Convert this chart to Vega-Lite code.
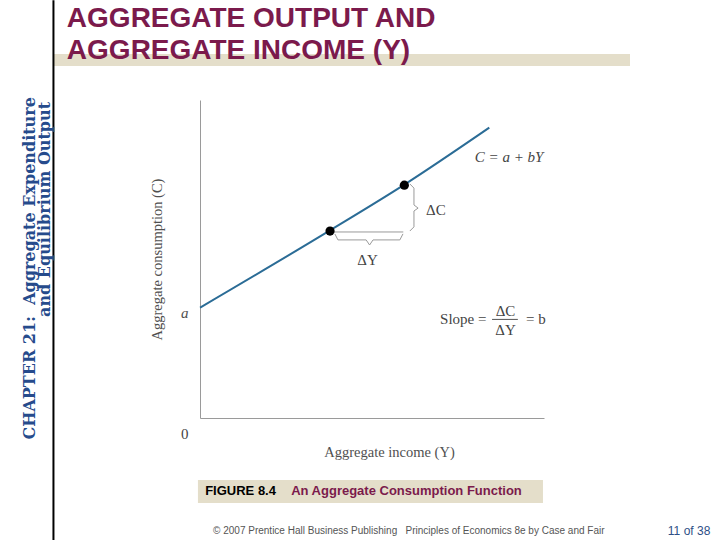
{
  "$schema": "https://vega.github.io/schema/vega-lite/v6.json",
  "width": 344,
  "height": 318,
  "autosize": {"type": "none"},
  "padding": {"left": 200, "top": 100, "right": 176, "bottom": 122},
  "background": "white",
  "config": {"view": {"stroke": null}, "axis": {"grid": false}},
  "datasets": {
    "consumption": [
      {"Y": 0, "C": 34.7},
      {"Y": 37.8, "C": 59.0},
      {"Y": 59.3, "C": 73.3},
      {"Y": 84.1, "C": 91.3}
    ],
    "points": [
      {"Y": 37.8, "C": 58.8},
      {"Y": 59.4, "C": 73.2}
    ],
    "braces": [
      {"brace": "dY", "k": 1, "Y": 39.2, "C": 57.9},
      {"brace": "dY", "k": 2, "Y": 40.1, "C": 56.0},
      {"brace": "dY", "k": 3, "Y": 48.3, "C": 56.0},
      {"brace": "dY", "k": 4, "Y": 49.3, "C": 54.4},
      {"brace": "dY", "k": 5, "Y": 50.3, "C": 56.0},
      {"brace": "dY", "k": 6, "Y": 58.1, "C": 56.0},
      {"brace": "dY", "k": 7, "Y": 59.0, "C": 57.9},
      {"brace": "dC", "k": 1, "Y": 61.0, "C": 73.6},
      {"brace": "dC", "k": 2, "Y": 62.2, "C": 72.3},
      {"brace": "dC", "k": 3, "Y": 62.2, "C": 67.0},
      {"brace": "dC", "k": 4, "Y": 63.4, "C": 66.0},
      {"brace": "dC", "k": 5, "Y": 62.2, "C": 65.1},
      {"brace": "dC", "k": 6, "Y": 62.2, "C": 60.1},
      {"brace": "dC", "k": 7, "Y": 61.0, "C": 58.8}
    ]
  },
  "layer": [
    {
      "data": {"values": [{}]},
      "mark": {"type": "rect", "color": "#E4DECA"},
      "encoding": {
        "x": {"datum": -42.6, "type": "quantitative", "scale": {"domain": [0, 100], "nice": false, "zero": false}},
        "x2": {"datum": 125},
        "y": {"datum": 114.5, "type": "quantitative", "scale": {"domain": [0, 100], "nice": false, "zero": false}},
        "y2": {"datum": 110.7}
      }
    },
    {
      "data": {"values": [{}]},
      "mark": {"type": "rule", "color": "#000000", "strokeWidth": 2},
      "encoding": {
        "x": {"datum": -42.6, "type": "quantitative", "scale": {"domain": [0, 100], "nice": false, "zero": false}},
        "y": {"datum": 131.4, "type": "quantitative", "scale": {"domain": [0, 100], "nice": false, "zero": false}},
        "y2": {"datum": -38.4}
      }
    },
    {
      "data": {"values": [{}]},
      "mark": {"type": "text", "font": "Liberation Sans", "fontWeight": "bold", "fontSize": 28, "color": "#7B1A4C", "align": "left", "baseline": "alphabetic", "lineBreak": "\n", "lineHeight": 32},
      "encoding": {
        "x": {"datum": -38.7, "type": "quantitative", "scale": {"domain": [0, 100], "nice": false, "zero": false}},
        "y": {"datum": 123.0, "type": "quantitative", "scale": {"domain": [0, 100], "nice": false, "zero": false}},
        "text": {"value": "AGGREGATE OUTPUT AND\nAGGREGATE INCOME (Y)"}
      }
    },
    {
      "data": {"values": [{}]},
      "mark": {"type": "text", "font": "DejaVu Serif", "fontWeight": "bold", "fontSize": 16, "color": "#264B8C", "align": "right", "baseline": "alphabetic", "angle": 270},
      "encoding": {
        "x": {"datum": -48.0, "type": "quantitative", "scale": {"domain": [0, 100], "nice": false, "zero": false}},
        "y": {"datum": 100.9, "type": "quantitative", "scale": {"domain": [0, 100], "nice": false, "zero": false}},
        "text": {"value": "CHAPTER 21:\u00a0 Aggregate Expenditure"}
      }
    },
    {
      "data": {"values": [{}]},
      "mark": {"type": "text", "font": "DejaVu Serif", "fontWeight": "bold", "fontSize": 16, "color": "#264B8C", "align": "right", "baseline": "alphabetic", "angle": 270},
      "encoding": {
        "x": {"datum": -43.5, "type": "quantitative", "scale": {"domain": [0, 100], "nice": false, "zero": false}},
        "y": {"datum": 99.4, "type": "quantitative", "scale": {"domain": [0, 100], "nice": false, "zero": false}},
        "text": {"value": "and Equilibrium Output"}
      }
    },
    {
      "data": {"values": [{}]},
      "mark": {"type": "rect", "color": "#E4DECA"},
      "encoding": {
        "x": {"datum": -0.6, "type": "quantitative", "scale": {"domain": [0, 100], "nice": false, "zero": false}},
        "x2": {"datum": 99.7},
        "y": {"datum": -19.5, "type": "quantitative", "scale": {"domain": [0, 100], "nice": false, "zero": false}},
        "y2": {"datum": -26.7}
      }
    },
    {
      "data": {"values": [{}]},
      "mark": {"type": "text", "font": "Liberation Sans", "fontWeight": "bold", "fontSize": 13, "color": "#000000", "align": "left", "baseline": "middle"},
      "encoding": {
        "x": {"datum": 1.5, "type": "quantitative", "scale": {"domain": [0, 100], "nice": false, "zero": false}},
        "y": {"datum": -23.1, "type": "quantitative", "scale": {"domain": [0, 100], "nice": false, "zero": false}},
        "text": {"value": "FIGURE 8.4"}
      }
    },
    {
      "data": {"values": [{}]},
      "mark": {"type": "text", "font": "Liberation Sans", "fontWeight": "bold", "fontSize": 13, "color": "#7B1A4C", "align": "left", "baseline": "middle"},
      "encoding": {
        "x": {"datum": 26.5, "type": "quantitative", "scale": {"domain": [0, 100], "nice": false, "zero": false}},
        "y": {"datum": -23.1, "type": "quantitative", "scale": {"domain": [0, 100], "nice": false, "zero": false}},
        "text": {"value": "An Aggregate Consumption Function"}
      }
    },
    {
      "data": {"values": [{}]},
      "mark": {"type": "text", "font": "Liberation Sans", "fontSize": 10, "color": "#555555", "align": "left", "baseline": "middle"},
      "encoding": {
        "x": {"datum": 3.8, "type": "quantitative", "scale": {"domain": [0, 100], "nice": false, "zero": false}},
        "y": {"datum": -35.5, "type": "quantitative", "scale": {"domain": [0, 100], "nice": false, "zero": false}},
        "text": {"value": "© 2007 Prentice Hall Business Publishing\u00a0\u00a0 Principles of Economics 8e by Case and Fair"}
      }
    },
    {
      "data": {"values": [{}]},
      "mark": {"type": "text", "font": "Liberation Sans", "fontSize": 12, "color": "#2E4F86", "align": "left", "baseline": "middle"},
      "encoding": {
        "x": {"datum": 136.0, "type": "quantitative", "scale": {"domain": [0, 100], "nice": false, "zero": false}},
        "y": {"datum": -35.5, "type": "quantitative", "scale": {"domain": [0, 100], "nice": false, "zero": false}},
        "text": {"value": "11 of 38"}
      }
    },
    {
      "data": {"name": "consumption"},
      "mark": {"type": "line", "color": "#2B6C96", "strokeWidth": 2, "interpolate": "monotone"},
      "encoding": {
        "x": {
          "field": "Y", "type": "quantitative",
          "scale": {"domain": [0, 100], "nice": false, "zero": false},
          "axis": {"title": "Aggregate income (Y)", "labels": false, "ticks": false, "domainColor": "#9a9a9a", "domainWidth": 1, "titleFont": "Liberation Serif", "titleFontWeight": "normal", "titleFontSize": 14.5, "titleColor": "#505050", "titlePadding": 27, "titleX": 189}
        },
        "y": {
          "field": "C", "type": "quantitative",
          "scale": {"domain": [0, 100], "nice": false, "zero": false},
          "axis": {"title": "Aggregate consumption (C)", "values": [33.3], "labelExpr": "'a'", "ticks": false, "labelFont": "Liberation Serif", "labelFontStyle": "italic", "labelFontSize": 15, "labelColor": "#505050", "labelPadding": 12, "domainColor": "#9a9a9a", "domainWidth": 1, "titleFont": "Liberation Serif", "titleFontWeight": "normal", "titleFontSize": 14.5, "titleColor": "#505050", "titlePadding": 16}
        }
      }
    },
    {
      "data": {"values": [{}]},
      "mark": {"type": "rule", "color": "#9a9a9a", "strokeWidth": 1},
      "encoding": {
        "x": {"datum": 37.8, "type": "quantitative", "scale": {"domain": [0, 100], "nice": false, "zero": false}},
        "x2": {"datum": 59.1},
        "y": {"datum": 58.5, "type": "quantitative", "scale": {"domain": [0, 100], "nice": false, "zero": false}}
      }
    },
    {
      "data": {"name": "braces"},
      "mark": {"type": "line", "color": "#9a9a9a", "strokeWidth": 1},
      "encoding": {
        "x": {"field": "Y", "type": "quantitative", "scale": {"domain": [0, 100], "nice": false, "zero": false}},
        "y": {"field": "C", "type": "quantitative", "scale": {"domain": [0, 100], "nice": false, "zero": false}},
        "detail": {"field": "brace"},
        "order": {"field": "k", "type": "quantitative"}
      }
    },
    {
      "data": {"name": "points"},
      "mark": {"type": "circle", "color": "#000000", "size": 85, "opacity": 1},
      "encoding": {
        "x": {"field": "Y", "type": "quantitative", "scale": {"domain": [0, 100], "nice": false, "zero": false}},
        "y": {"field": "C", "type": "quantitative", "scale": {"domain": [0, 100], "nice": false, "zero": false}}
      }
    },
    {
      "data": {"values": [{}]},
      "mark": {"type": "text", "font": "Liberation Serif", "fontStyle": "italic", "fontSize": 15, "color": "#444444", "align": "left", "baseline": "middle"},
      "encoding": {
        "x": {"datum": 79.9, "type": "quantitative", "scale": {"domain": [0, 100], "nice": false, "zero": false}},
        "y": {"datum": 82.1, "type": "quantitative", "scale": {"domain": [0, 100], "nice": false, "zero": false}},
        "text": {"value": "C = a + bY"}
      }
    },
    {
      "data": {"values": [{}]},
      "mark": {"type": "text", "font": "Liberation Serif", "fontSize": 15, "color": "#444444", "align": "left", "baseline": "middle"},
      "encoding": {
        "x": {"datum": 65.7, "type": "quantitative", "scale": {"domain": [0, 100], "nice": false, "zero": false}},
        "y": {"datum": 65.4, "type": "quantitative", "scale": {"domain": [0, 100], "nice": false, "zero": false}},
        "text": {"value": "ΔC"}
      }
    },
    {
      "data": {"values": [{}]},
      "mark": {"type": "text", "font": "Liberation Serif", "fontSize": 15, "color": "#444444", "align": "center", "baseline": "middle"},
      "encoding": {
        "x": {"datum": 48.7, "type": "quantitative", "scale": {"domain": [0, 100], "nice": false, "zero": false}},
        "y": {"datum": 49.7, "type": "quantitative", "scale": {"domain": [0, 100], "nice": false, "zero": false}},
        "text": {"value": "ΔY"}
      }
    },
    {
      "data": {"values": [{}]},
      "mark": {"type": "text", "font": "Liberation Serif", "fontSize": 15, "color": "#444444", "align": "center", "baseline": "middle"},
      "encoding": {
        "x": {"datum": -4.4, "type": "quantitative", "scale": {"domain": [0, 100], "nice": false, "zero": false}},
        "y": {"datum": -4.9, "type": "quantitative", "scale": {"domain": [0, 100], "nice": false, "zero": false}},
        "text": {"value": "0"}
      }
    },
    {
      "data": {"values": [{}]},
      "mark": {"type": "text", "font": "Liberation Serif", "fontSize": 15, "color": "#444444", "align": "left", "baseline": "middle"},
      "encoding": {
        "x": {"datum": 69.8, "type": "quantitative", "scale": {"domain": [0, 100], "nice": false, "zero": false}},
        "y": {"datum": 31.0, "type": "quantitative", "scale": {"domain": [0, 100], "nice": false, "zero": false}},
        "text": {"value": "Slope ="}
      }
    },
    {
      "data": {"values": [{}]},
      "mark": {"type": "rule", "color": "#555555", "strokeWidth": 1},
      "encoding": {
        "x": {"datum": 84.9, "type": "quantitative", "scale": {"domain": [0, 100], "nice": false, "zero": false}},
        "x2": {"datum": 92.4},
        "y": {"datum": 31.0, "type": "quantitative", "scale": {"domain": [0, 100], "nice": false, "zero": false}}
      }
    },
    {
      "data": {"values": [{}]},
      "mark": {"type": "text", "font": "Liberation Serif", "fontSize": 15, "color": "#444444", "align": "center", "baseline": "middle"},
      "encoding": {
        "x": {"datum": 88.8, "type": "quantitative", "scale": {"domain": [0, 100], "nice": false, "zero": false}},
        "y": {"datum": 33.6, "type": "quantitative", "scale": {"domain": [0, 100], "nice": false, "zero": false}},
        "text": {"value": "ΔC"}
      }
    },
    {
      "data": {"values": [{}]},
      "mark": {"type": "text", "font": "Liberation Serif", "fontSize": 15, "color": "#444444", "align": "center", "baseline": "middle"},
      "encoding": {
        "x": {"datum": 88.8, "type": "quantitative", "scale": {"domain": [0, 100], "nice": false, "zero": false}},
        "y": {"datum": 27.7, "type": "quantitative", "scale": {"domain": [0, 100], "nice": false, "zero": false}},
        "text": {"value": "ΔY"}
      }
    },
    {
      "data": {"values": [{}]},
      "mark": {"type": "text", "font": "Liberation Serif", "fontSize": 15, "color": "#444444", "align": "left", "baseline": "middle"},
      "encoding": {
        "x": {"datum": 94.8, "type": "quantitative", "scale": {"domain": [0, 100], "nice": false, "zero": false}},
        "y": {"datum": 31.0, "type": "quantitative", "scale": {"domain": [0, 100], "nice": false, "zero": false}},
        "text": {"value": "= b"}
      }
    }
  ]
}
